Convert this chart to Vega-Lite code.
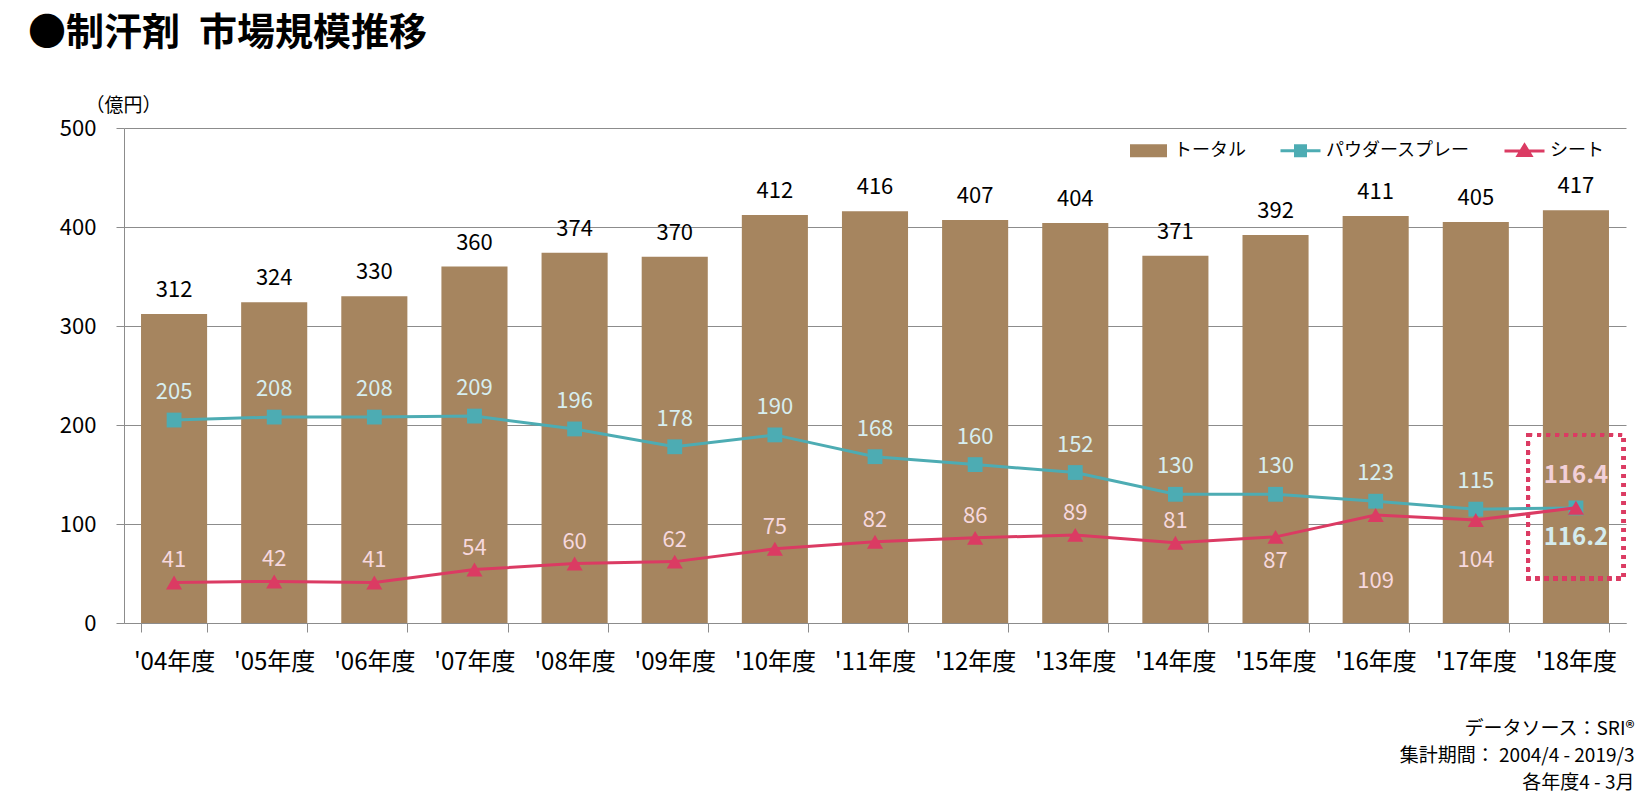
{
  "$schema": "https://vega.github.io/schema/vega-lite/v6.json",
  "width": 1502,
  "height": 495,
  "autosize": {"type": "none"},
  "padding": {"left": 124, "top": 128, "right": 24, "bottom": 183},
  "background": "white",
  "title": {
    "text": "●制汗剤\u2002市場規模推移",
    "anchor": "start",
    "frame": "group",
    "fontSize": 38,
    "fontWeight": "bold",
    "color": "#000000",
    "dx": -96,
    "offset": 43
  },
  "config": {
    "font": "Noto Sans CJK JP",
    "view": {"stroke": null},
    "axis": {"labelFont": "Noto Sans CJK JP", "titleFont": "Noto Sans CJK JP"},
    "legend": {"labelFont": "Noto Sans CJK JP"}
  },
  "data": {
    "values": [
      {"year": "'04年度", "total": 312, "spray": 205, "sheet": 41},
      {"year": "'05年度", "total": 324, "spray": 208, "sheet": 42},
      {"year": "'06年度", "total": 330, "spray": 208, "sheet": 41},
      {"year": "'07年度", "total": 360, "spray": 209, "sheet": 54},
      {"year": "'08年度", "total": 374, "spray": 196, "sheet": 60},
      {"year": "'09年度", "total": 370, "spray": 178, "sheet": 62},
      {"year": "'10年度", "total": 412, "spray": 190, "sheet": 75},
      {"year": "'11年度", "total": 416, "spray": 168, "sheet": 82},
      {"year": "'12年度", "total": 407, "spray": 160, "sheet": 86},
      {"year": "'13年度", "total": 404, "spray": 152, "sheet": 89},
      {"year": "'14年度", "total": 371, "spray": 130, "sheet": 81},
      {"year": "'15年度", "total": 392, "spray": 130, "sheet": 87},
      {"year": "'16年度", "total": 411, "spray": 123, "sheet": 109},
      {"year": "'17年度", "total": 405, "spray": 115, "sheet": 104},
      {"year": "'18年度", "total": 417, "spray": 116.2, "sheet": 116.4}
    ]
  },
  "encoding": {
    "x": {
      "field": "year",
      "type": "nominal",
      "sort": null,
      "scale": {"paddingInner": 0.34, "paddingOuter": 0.17},
      "axis": {
        "title": ["データソース：SRI®", "集計期間： 2004/4 - 2019/3", "各年度4 - 3月"],
        "titleX": 1510,
        "titleY": 96,
        "titleAlign": "right",
        "titleAnchor": "end",
        "titleBaseline": "top",
        "titleFontSize": 19,
        "titleFontWeight": "normal",
        "titleLineHeight": 27,
        "titleColor": "#000000",
        "labelAngle": 0,
        "labelFontSize": 24,
        "labelColor": "#000000",
        "labelPadding": 18,
        "tickSize": 9,
        "tickColor": "#8C8C8C",
        "domainColor": "#8C8C8C",
        "tickBand": "extent",
        "grid": false
      }
    }
  },
  "layer": [
    {
      "mark": {"type": "bar"},
      "encoding": {
        "y": {
          "field": "total",
          "type": "quantitative",
          "scale": {"domain": [0, 500], "nice": false},
          "axis": {
            "values": [0, 100, 200, 300, 400, 500],
            "title": "（億円）",
            "titleAngle": 0,
            "titleX": -1,
            "titleY": -23,
            "titleAlign": "center",
            "titleBaseline": "middle",
            "titleFontSize": 19,
            "titleFontWeight": "normal",
            "titleColor": "#000000",
            "labelFontSize": 22,
            "labelColor": "#000000",
            "labelPadding": 20,
            "tickSize": 8,
            "tickColor": "#8C8C8C",
            "domainColor": "#8C8C8C",
            "gridColor": "#8C8C8C",
            "grid": true
          }
        },
        "color": {
          "datum": "トータル",
          "type": "nominal",
          "scale": {
            "domain": ["トータル", "パウダースプレー", "シート"],
            "range": ["#A6855F", "#4DACB3", "#DB3B63"]
          },
          "legend": {
            "orient": "none",
            "legendX": 1003,
            "legendY": 1,
            "direction": "horizontal",
            "title": null,
            "padding": 0,
            "labelFontSize": 18,
            "labelColor": "#000000",
            "labelOffset": 4,
            "columnPadding": 28,
            "symbolSize": 1600,
            "encode": {
              "symbols": {
                "update": {
                  "shape": {"signal": "datum.value === 'トータル' ? 'M-0.85,-0.25H0.85V0.25H-0.85Z' : datum.value === 'パウダースプレー' ? 'M-1,0H1M-0.25,-0.25H0.25V0.25H-0.25Z' : 'M-1,0H1M0,-0.3L0.32,0.22H-0.32Z'"},
                  "fill": {"signal": "datum.value === 'トータル' ? '#A6855F' : datum.value === 'パウダースプレー' ? '#4DACB3' : '#DB3B63'"},
                  "stroke": {"signal": "datum.value === 'トータル' ? '#A6855F' : datum.value === 'パウダースプレー' ? '#4DACB3' : '#DB3B63'"},
                  "strokeWidth": {"value": 3},
                  "size": {"value": 1600},
                  "opacity": {"value": 1},
                  "fillOpacity": {"value": 1},
                  "strokeOpacity": {"value": 1}
                }
              }
            }
          }
        }
      }
    },
    {
      "mark": {"type": "rect", "fill": null, "filled": false, "stroke": "#DB3B63", "strokeWidth": 4, "strokeDash": [4, 5], "width": {"band": 1.45}},
      "encoding": {
        "x": {"datum": "'18年度"},
        "y": {"datum": 45},
        "y2": {"datum": 190}
      }
    },
    {
      "mark": {"type": "line", "strokeWidth": 3, "point": {"shape": "square", "size": 220, "filled": true}},
      "encoding": {
        "y": {"field": "spray", "type": "quantitative"},
        "color": {"datum": "パウダースプレー"}
      }
    },
    {
      "mark": {"type": "line", "strokeWidth": 3, "point": {"shape": "triangle-up", "size": 260, "filled": true}},
      "encoding": {
        "y": {"field": "sheet", "type": "quantitative"},
        "color": {"datum": "シート"}
      }
    },
    {
      "mark": {"type": "text", "baseline": "middle", "dy": -24, "fontSize": 22, "color": "#000000"},
      "encoding": {
        "y": {"field": "total", "type": "quantitative"},
        "text": {"field": "total", "type": "quantitative", "format": ""}
      }
    },
    {
      "transform": [{"filter": {"not": {"field": "year", "oneOf": ["'18年度"]}}}],
      "mark": {"type": "text", "baseline": "middle", "dy": -28, "fontSize": 22, "color": "#D7EEF0"},
      "encoding": {
        "y": {"field": "spray", "type": "quantitative"},
        "text": {"field": "spray", "type": "quantitative", "format": ""}
      }
    },
    {
      "transform": [{"filter": {"field": "year", "oneOf": ["'18年度"]}}],
      "mark": {"type": "text", "baseline": "middle", "dy": 30, "fontSize": 24, "fontWeight": "bold", "color": "#D4ECEE"},
      "encoding": {
        "y": {"field": "spray", "type": "quantitative"},
        "text": {"field": "spray", "type": "quantitative", "format": ""}
      }
    },
    {
      "transform": [{"filter": {"not": {"field": "year", "oneOf": ["'15年度", "'16年度", "'17年度", "'18年度"]}}}],
      "mark": {"type": "text", "baseline": "middle", "dy": -22, "fontSize": 22, "color": "#F6D8DE"},
      "encoding": {
        "y": {"field": "sheet", "type": "quantitative"},
        "text": {"field": "sheet", "type": "quantitative", "format": ""}
      }
    },
    {
      "transform": [{"filter": {"field": "year", "oneOf": ["'15年度"]}}],
      "mark": {"type": "text", "baseline": "middle", "dy": 24, "fontSize": 22, "color": "#F6D8DE"},
      "encoding": {
        "y": {"field": "sheet", "type": "quantitative"},
        "text": {"field": "sheet", "type": "quantitative", "format": ""}
      }
    },
    {
      "transform": [{"filter": {"field": "year", "oneOf": ["'16年度"]}}],
      "mark": {"type": "text", "baseline": "middle", "dy": 66, "fontSize": 22, "color": "#F6D8DE"},
      "encoding": {
        "y": {"field": "sheet", "type": "quantitative"},
        "text": {"field": "sheet", "type": "quantitative", "format": ""}
      }
    },
    {
      "transform": [{"filter": {"field": "year", "oneOf": ["'17年度"]}}],
      "mark": {"type": "text", "baseline": "middle", "dy": 40, "fontSize": 22, "color": "#F6D8DE"},
      "encoding": {
        "y": {"field": "sheet", "type": "quantitative"},
        "text": {"field": "sheet", "type": "quantitative", "format": ""}
      }
    },
    {
      "transform": [{"filter": {"field": "year", "oneOf": ["'18年度"]}}],
      "mark": {"type": "text", "baseline": "middle", "dy": -32, "fontSize": 24, "fontWeight": "bold", "color": "#F2D0D8"},
      "encoding": {
        "y": {"field": "sheet", "type": "quantitative"},
        "text": {"field": "sheet", "type": "quantitative", "format": ""}
      }
    }
  ]
}
